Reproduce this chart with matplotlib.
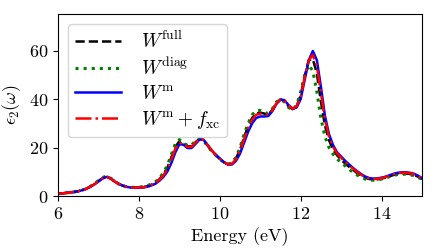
import numpy as np
import matplotlib
matplotlib.use("Agg")
import matplotlib.pyplot as plt

plt.rcParams['font.family'] = 'serif'
plt.rcParams['font.serif'] = ['cmr10']
plt.rcParams['mathtext.fontset'] = 'cm'
plt.rcParams['axes.formatter.use_mathtext'] = True

energy = np.round(np.arange(6.0, 15.01, 0.1), 2)

w_m = [1.0, 1.1, 1.3, 1.5, 1.7, 2.0, 2.4, 3.0, 3.8, 4.8,
       6.0, 7.2, 7.9, 7.2, 6.0, 5.0, 4.3, 3.8, 3.5, 3.4,
       3.4, 3.5, 3.8, 4.3, 5.0, 6.2, 7.8, 10.0, 13.5, 18.0,
       21.3, 21.2, 19.8, 19.8, 21.5, 23.3, 23.2, 21.0, 18.8, 17.0,
       15.5, 14.0, 13.0, 13.0, 14.5, 17.5, 22.0, 26.5, 30.0, 32.2,
       32.8, 32.8, 33.0, 35.0, 38.0, 39.8, 39.5, 37.5, 36.0, 36.5,
       40.0, 48.0, 56.0, 59.8, 56.0, 45.0, 33.0, 25.5, 21.0, 18.0,
       16.3, 14.5, 13.0, 11.5, 10.2, 9.0, 8.0, 7.4, 7.2, 7.3,
       7.6, 8.0, 8.6, 9.2, 9.6, 9.8, 9.8, 9.6, 9.2, 8.4, 7.4]

w_m_fxc = [1.0, 1.1, 1.3, 1.5, 1.7, 2.0, 2.4, 3.0, 3.9, 4.9,
           6.1, 7.3, 8.0, 7.2, 6.0, 5.0, 4.3, 3.8, 3.5, 3.5,
           3.5, 3.6, 3.9, 4.5, 5.3, 6.6, 8.4, 11.0, 15.0, 19.5,
           22.0, 21.5, 20.3, 20.3, 22.0, 23.5, 23.2, 21.0, 18.8, 17.0,
           15.4, 14.0, 13.1, 13.3, 15.2, 18.5, 23.5, 28.0, 31.5, 33.5,
           34.0, 33.8, 33.5, 35.3, 38.2, 39.8, 39.4, 37.3, 36.0, 37.0,
           41.0, 49.0, 56.0, 58.2, 53.5, 42.5, 31.5, 24.5, 20.3, 17.5,
           15.8, 14.0, 12.6, 11.2, 9.9, 8.7, 7.8, 7.2, 7.0, 7.1,
           7.4, 7.8, 8.4, 9.0, 9.4, 9.6, 9.6, 9.4, 9.0, 8.2, 7.3]

w_full = [1.0, 1.1, 1.3, 1.5, 1.7, 2.0, 2.4, 3.0, 3.9, 5.0,
          6.2, 7.4, 8.1, 7.3, 6.1, 5.0, 4.3, 3.8, 3.5, 3.5,
          3.5, 3.7, 4.0, 4.6, 5.4, 6.8, 8.8, 11.5, 15.8, 20.3,
          22.5, 21.8, 20.5, 20.5, 22.2, 23.6, 23.0, 20.8, 18.7, 16.9,
          15.3, 13.9, 13.1, 13.5, 15.5, 19.0, 24.2, 28.8, 32.2, 34.0,
          34.4, 34.0, 33.6, 35.5, 38.3, 39.8, 39.2, 37.0, 35.8, 37.0,
          41.5, 49.5, 56.0, 56.5, 50.5, 39.0, 29.0, 23.0, 19.3, 16.8,
          15.0, 13.4, 12.0, 10.7, 9.4, 8.3, 7.5, 7.0, 6.8, 6.9,
          7.2, 7.6, 8.2, 8.7, 9.1, 9.3, 9.3, 9.1, 8.7, 8.0, 7.1]

w_diag = [1.0, 1.1, 1.3, 1.5, 1.7, 2.0, 2.5, 3.1, 4.0, 5.1,
          6.4, 7.6, 8.3, 7.4, 6.1, 5.0, 4.3, 3.8, 3.6, 3.6,
          3.7, 3.9, 4.2, 4.9, 5.8, 7.2, 9.5, 12.5, 17.0, 21.5,
          23.3, 22.0, 20.8, 21.0, 22.8, 23.8, 22.8, 20.5, 18.5, 16.8,
          15.2, 13.9, 13.2, 13.6, 16.0, 20.0, 25.5, 30.0, 33.5, 35.3,
          35.3, 34.5, 34.0, 36.0, 38.8, 39.8, 38.8, 36.5, 35.5, 37.5,
          43.0, 50.0, 54.0, 51.5, 43.0, 32.0, 24.5, 20.0, 17.3, 15.3,
          13.8, 12.4, 11.0, 9.7, 8.6, 7.7, 7.0, 6.6, 6.5, 6.7,
          7.0, 7.5, 8.0, 8.5, 8.9, 9.0, 9.0, 8.8, 8.4, 7.7, 6.9]

fig = plt.figure(figsize=(4.36, 2.52), dpi=100)
ax = fig.add_axes([0.133, 0.222, 0.835, 0.722])

ax.plot(energy, w_full, color='black', ls='--', lw=1.8, label=r'$W^{\rm full}$')
ax.plot(energy, w_diag, color='green', ls=':', lw=2.2, label=r'$W^{\rm diag}$')
ax.plot(energy, w_m, color='blue', ls='-', lw=1.8, label=r'$W^{\rm m}$')
ax.plot(energy, w_m_fxc, color='red', ls='-.', lw=1.8, label=r'$W^{\rm m} + f_{\rm xc}$')

ax.set_xlim(6, 15)
ax.set_ylim(0, 75)
ax.set_xticks([6, 8, 10, 12, 14])
ax.set_yticks([0, 20, 40, 60])
ax.tick_params(labelsize=13)
ax.set_xlabel('Energy (eV)', fontsize=13)
ax.set_ylabel(r'$\epsilon_2(\omega)$', fontsize=13)
ax.legend(loc='upper left', fontsize=14, handlelength=2.4, labelspacing=0.3,
          borderpad=0.35, handletextpad=1.0)

fig.savefig('out.png', dpi=100)
